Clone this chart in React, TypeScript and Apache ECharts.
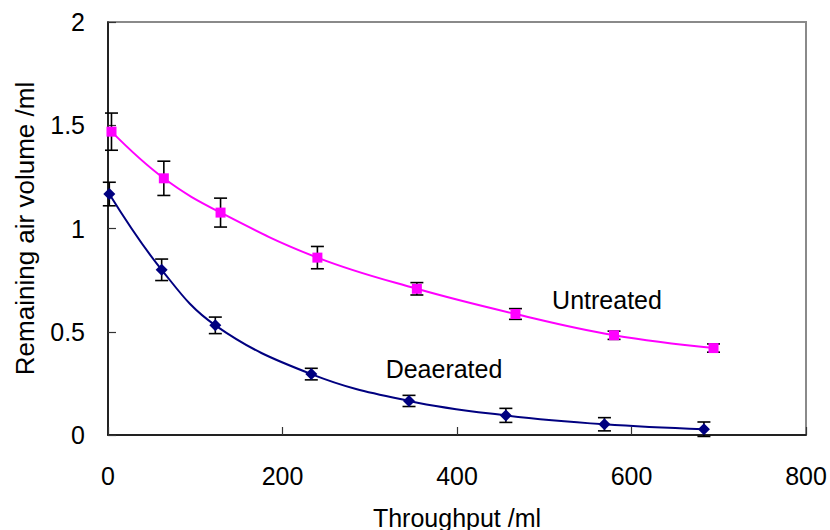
import React, { useEffect, useRef } from "react";
import * as echarts from "echarts";

// Throughput (ml) and remaining air volume (ml)
const untreatedX = [4, 64, 129, 240, 354, 467, 580, 694];
const untreatedY = [1.469, 1.243, 1.077, 0.859, 0.708, 0.586, 0.483, 0.421];
const untreatedErr = [0.09, 0.083, 0.07, 0.054, 0.03, 0.026, 0.02, 0.02];

const deaeratedX = [1.5, 61.5, 123, 233, 345, 456, 569, 683];
const deaeratedY = [1.167, 0.8, 0.531, 0.295, 0.165, 0.095, 0.052, 0.028];
const deaeratedErr = [0.057, 0.052, 0.04, 0.028, 0.027, 0.034, 0.032, 0.035];

const xTicks = { min: 0, max: 800, interval: 200 };
const yTicks = { min: 0, max: 2, interval: 0.5 };

const FONT = "'Liberation Sans', Arial, sans-serif";

function errorBarSeries(xs: number[], ys: number[], errs: number[]) {
  return {
    type: "custom",
    z: 1,
    silent: true,
    data: xs.map((x, i) => [x, ys[i], errs[i]]),
    renderItem: (params: any, api: any) => {
      const x = api.value(0);
      const y = api.value(1);
      const e = api.value(2);
      const top = api.coord([x, y + e]);
      const bot = api.coord([x, y - e]);
      const hw = 6.5;
      const style = { stroke: "#000", lineWidth: 1.6 };
      return {
        type: "group",
        children: [
          { type: "line", shape: { x1: top[0], y1: top[1], x2: bot[0], y2: bot[1] }, style },
          { type: "line", shape: { x1: top[0] - hw, y1: top[1], x2: top[0] + hw, y2: top[1] }, style },
          { type: "line", shape: { x1: bot[0] - hw, y1: bot[1], x2: bot[0] + hw, y2: bot[1] }, style },
        ],
      };
    },
  };
}

export default function App() {
  const ref = useRef<HTMLDivElement>(null);
  useEffect(() => {
    if (!ref.current) return;
    const chart = echarts.init(ref.current, undefined, { renderer: "svg" });
    chart.setOption({
      animation: false,
      backgroundColor: "#fff",
      grid: {
        left: 108,
        right: 24,
        top: 22,
        bottom: 95,
        containLabel: false,
        outerBoundsMode: "none",
        show: true,
        borderColor: "#8a8a8a",
        borderWidth: 2,
        backgroundColor: "transparent",
      },
      xAxis: {
        type: "value",
        min: xTicks.min,
        max: xTicks.max,
        interval: xTicks.interval,
        name: "Throughput /ml",
        nameLocation: "middle",
        nameGap: 70,
        nameTextStyle: { fontFamily: FONT, fontSize: 25, color: "#000" },
        axisLine: { show: true, onZero: false, lineStyle: { color: "#000", width: 1.5 } },
        axisTick: { show: true, inside: true, length: 8, lineStyle: { color: "#333", width: 1.2 } },
        axisLabel: { fontFamily: FONT, fontSize: 25, color: "#000", margin: 28 },
        splitLine: { show: false },
      },
      yAxis: {
        type: "value",
        min: yTicks.min,
        max: yTicks.max,
        interval: yTicks.interval,
        name: "Remaining air volume /ml",
        nameLocation: "middle",
        nameGap: 70,
        nameTextStyle: { fontFamily: FONT, fontSize: 26, color: "#000" },
        axisLine: { show: true, lineStyle: { color: "#000", width: 1.5 } },
        axisTick: { show: true, inside: true, length: 8, lineStyle: { color: "#333", width: 1.2 } },
        axisLabel: { fontFamily: FONT, fontSize: 25, color: "#000", margin: 23 },
        splitLine: { show: false },
      },
      series: [
        errorBarSeries(untreatedX, untreatedY, untreatedErr),
        errorBarSeries(deaeratedX, deaeratedY, deaeratedErr),
        {
          name: "Untreated",
          type: "line",
          z: 3,
          smooth: 0.4,
          data: untreatedX.map((x, i) => [x, untreatedY[i]]),
          symbol: "rect",
          symbolSize: 10,
          itemStyle: { color: "#FF00FF" },
          lineStyle: { color: "#FF00FF", width: 2 },
        },
        {
          name: "Deaerated",
          type: "line",
          z: 3,
          smooth: 0.4,
          data: deaeratedX.map((x, i) => [x, deaeratedY[i]]),
          symbol: "diamond",
          symbolSize: 12,
          itemStyle: { color: "#000080" },
          lineStyle: { color: "#000080", width: 2 },
        },
      ],
      graphic: [
        {
          type: "text",
          x: 607,
          y: 300,
          style: {
            text: "Untreated",
            fontFamily: FONT,
            fontSize: 25,
            fill: "#000",
            textAlign: "center",
            textVerticalAlign: "middle",
          },
        },
        {
          type: "text",
          x: 444,
          y: 369,
          style: {
            text: "Deaerated",
            fontFamily: FONT,
            fontSize: 25,
            fill: "#000",
            textAlign: "center",
            textVerticalAlign: "middle",
          },
        },
      ],
    });
    return () => chart.dispose();
  }, []);
  return (
    <div
      ref={ref}
      style={{ position: "fixed", left: 0, top: 0, width: 830, height: 530 }}
    />
  );
}
